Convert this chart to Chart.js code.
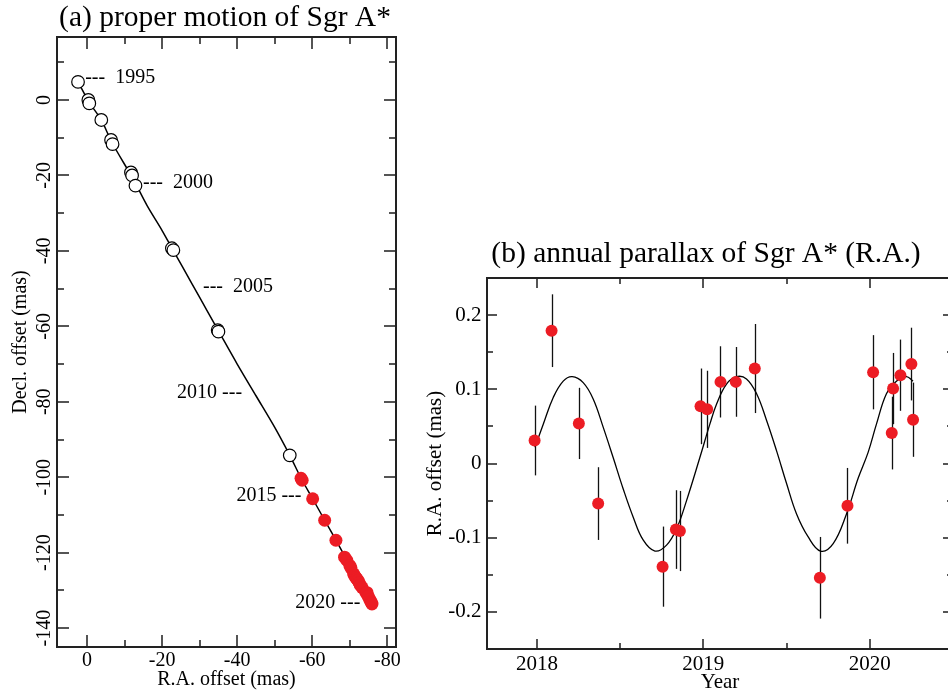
<!DOCTYPE html>
<html>
<head>
<meta charset="utf-8">
<script src="https://cdn.jsdelivr.net/npm/chart.js@4.4.1/dist/chart.umd.min.js"></script>
<style>
  html, body { margin: 0; padding: 0; background: #fff; overflow: hidden; width: 948px; height: 695px; }
  #wrapA { position: absolute; left: 0; top: 0; width: 450px; height: 695px; }
  #wrapB { position: absolute; left: 410px; top: 0; width: 592px; height: 695px; }
</style>
</head>
<body>
<div id="wrapA"><canvas id="chartA" width="450" height="695"></canvas></div>
<div id="wrapB"><canvas id="chartB" width="592" height="695"></canvas></div>
<script>
// ---------------- Panel (a): proper motion ----------------
const openRA  = [2.4, -0.35, -0.6, -3.8, -6.4, -6.8, -11.7, -12.0, -12.9, -22.6, -23.0, -34.8, -35.0, -54.0];
const openDec = [4.8, 0.0, -0.9, -5.3, -10.6, -11.7, -19.2, -20.0, -22.7, -39.3, -39.8, -61.0, -61.4, -94.2];
const redRA  = [-57.0, -57.3, -60.1, -63.3, -66.3, -68.6, -69.2, -70.0, -70.3, -71.0, -71.3, -71.6, -71.9, -72.2, -72.5, -72.8, -73.3, -74.3, -74.6, -74.9, -75.3, -75.6, -75.8, -75.9];
const redDec = [-100.3, -100.8, -105.7, -111.4, -116.7, -121.2, -122.0, -123.4, -124.0, -125.6, -126.2, -126.6, -127.0, -127.4, -128.0, -128.6, -129.3, -130.6, -130.6, -131.6, -132.4, -133.0, -133.3, -133.6];
const fitRA  = [2.4, -0.5, -3.8, -6.6, -12.3, -16.0, -20.0, -22.8, -28.0, -32.0, -35.0, -40.0, -45.0, -50.0, -54.0, -57.2, -60.1, -63.3, -66.3, -69.0, -72.0, -75.9];
const fitDec = [4.8, -0.5, -5.3, -11.2, -21.0, -28.0, -34.6, -39.6, -48.8, -55.9, -61.2, -70.0, -78.4, -86.8, -94.2, -100.6, -105.7, -111.4, -116.7, -121.6, -127.0, -133.5];
const raTicks = [0, -20, -40, -60, -80];
const raMinor = [-10, -30, -50, -70];
const decTicks = [0, -20, -40, -60, -80, -100, -120, -140];
const decMinor = [10, -10, -30, -50, -70, -90, -110, -130];
const yearLabels = ['1995', '2000', '2005', '2010', '2015', '2020'];
const yearLabelRA  = [0.5, -14.9, -30.9, -41.3, -57.1, -72.8];
const yearLabelDec = [5.8, -22.0, -49.6, -77.5, -105.0, -133.4];
const yearLabelSide = ['right', 'right', 'right', 'left', 'left', 'left'];

// ---------------- Panel (b): annual parallax ----------------
const obsYear = [2017.986, 2018.088, 2018.252, 2018.368, 2018.755, 2018.835, 2018.859, 2018.983, 2019.023, 2019.103, 2019.195, 2019.309, 2019.700, 2019.866, 2020.020, 2020.132, 2020.140, 2020.184, 2020.250, 2020.260];
const obsRA   = [0.031, 0.179, 0.054, -0.054, -0.139, -0.089, -0.091, 0.077, 0.073, 0.110, 0.110, 0.128, -0.154, -0.057, 0.123, 0.041, 0.101, 0.119, 0.134, 0.059];
const obsErr  = [0.047, 0.049, 0.048, 0.049, 0.054, 0.053, 0.054, 0.051, 0.052, 0.048, 0.047, 0.060, 0.055, 0.051, 0.050, 0.049, 0.048, 0.048, 0.049, 0.050];
const curveYear = [2017.988, 2018.038, 2018.098, 2018.158, 2018.212, 2018.278, 2018.338, 2018.398, 2018.458, 2018.518, 2018.578, 2018.638, 2018.709, 2018.779, 2018.839, 2018.899, 2018.979, 2019.039, 2019.079, 2019.139, 2019.199, 2019.259, 2019.320, 2019.380, 2019.440, 2019.500, 2019.560, 2019.630, 2019.704, 2019.780, 2019.860, 2019.930, 2019.990, 2020.040, 2020.100, 2020.160, 2020.220, 2020.260];
const curveRA   = [0.022, 0.053, 0.089, 0.111, 0.117, 0.109, 0.087, 0.049, 0.008, -0.034, -0.072, -0.103, -0.118, -0.110, -0.088, -0.050, 0.008, 0.053, 0.080, 0.107, 0.117, 0.114, 0.094, 0.058, 0.017, -0.027, -0.068, -0.099, -0.118, -0.108, -0.068, -0.020, 0.015, 0.053, 0.094, 0.111, 0.117, 0.111];
const yearTicks = [2018, 2019, 2020];
const yearMinor = [2018.5, 2019.5, 2020.5];
const parTicks = [0.2, 0.1, 0, -0.1, -0.2];
const parMinor = [0.15, 0.05, -0.05, -0.15];

const FONT = "'Liberation Serif', 'Times New Roman', serif";
Chart.defaults.font.family = FONT;
Chart.defaults.color = '#000';
Chart.defaults.animation = false;

const pts = (xs, ys) => xs.map((v, i) => ({ x: v, y: ys[i] }));

// Frame plugin: box + inward ticks on all sides, using the chart's scales
const framePlugin = {
  id: 'frame',
  afterDatasetsDraw(chart, args, o) {
    const { ctx, chartArea: a, scales } = chart;
    const sx = scales.x, sy = scales.y;
    ctx.save();
    ctx.strokeStyle = o.tickColor;
    ctx.lineWidth = 2;
    const vt = (vals, len) => vals.forEach(v => {
      const p = Math.round(sx.getPixelForValue(v));
      if (p < a.left - 0.5 || p > a.right + 0.5) return;
      ctx.beginPath();
      ctx.moveTo(p, a.bottom); ctx.lineTo(p, a.bottom - len);
      ctx.moveTo(p, a.top); ctx.lineTo(p, a.top + len);
      ctx.stroke();
    });
    const ht = (vals, len) => vals.forEach(v => {
      const p = Math.round(sy.getPixelForValue(v));
      if (p < a.top - 0.5 || p > a.bottom + 0.5) return;
      ctx.beginPath();
      ctx.moveTo(a.left, p); ctx.lineTo(a.left + len, p);
      ctx.moveTo(a.right, p); ctx.lineTo(a.right - len, p);
      ctx.stroke();
    });
    vt(o.xMajor, o.major); vt(o.xMinor, o.minor);
    ht(o.yMajor, o.major); ht(o.yMinor, o.minor);
    ctx.strokeStyle = o.borderColor;
    ctx.lineWidth = 2;
    ctx.strokeRect(a.left, a.top, a.right - a.left, a.bottom - a.top);
    ctx.restore();
  }
};

// Rotated y tick labels for panel (a)
const rotLabels = {
  id: 'rotLabels',
  afterDraw(chart, args, o) {
    if (!o.enabled) return;
    const { ctx, scales } = chart;
    const sy = scales.y;
    ctx.save();
    ctx.font = o.size + 'px ' + FONT;
    ctx.fillStyle = '#000';
    ctx.textAlign = 'center';
    ctx.textBaseline = 'middle';
    sy.ticks.forEach(t => {
      const p = sy.getPixelForValue(t.value);
      ctx.save();
      ctx.translate(o.x, p);
      ctx.rotate(-Math.PI / 2);
      ctx.fillText(String(t.value), 0, 0);
      ctx.restore();
    });
    ctx.restore();
  }
};

// Year annotations for panel (a)
const yearAnno = {
  id: 'yearAnno',
  afterDatasetsDraw(chart, args, o) {
    if (!o.enabled) return;
    const { ctx, scales } = chart;
    ctx.save();
    ctx.font = o.size + 'px ' + FONT;
    ctx.fillStyle = '#000';
    ctx.textBaseline = 'middle';
    yearLabels.forEach((lab, i) => {
      const px = scales.x.getPixelForValue(yearLabelRA[i]);
      const py = scales.y.getPixelForValue(yearLabelDec[i]);
      if (yearLabelSide[i] === 'right') {
        ctx.textAlign = 'left';
        ctx.fillText('---  ' + lab, px, py);
      } else {
        ctx.textAlign = 'right';
        ctx.fillText(lab + ' ---', px, py);
      }
    });
    ctx.restore();
  }
};

// Error bars for panel (b)
const errorBars = {
  id: 'errorBars',
  beforeDatasetsDraw(chart, args, o) {
    if (!o.enabled) return;
    const { ctx, scales } = chart;
    ctx.save();
    ctx.strokeStyle = '#111';
    ctx.lineWidth = 1.3;
    obsYear.forEach((yr, i) => {
      const px = Math.round(scales.x.getPixelForValue(yr)) + 0.5;
      ctx.beginPath();
      ctx.moveTo(px, scales.y.getPixelForValue(obsRA[i] + obsErr[i]));
      ctx.lineTo(px, scales.y.getPixelForValue(obsRA[i] - obsErr[i]));
      ctx.stroke();
    });
    ctx.restore();
  }
};

Chart.register(framePlugin, rotLabels, yearAnno, errorBars);

const RED = '#ec1c24';

// invisible right-hand spacer axis so the title centres on the whole canvas
const spacer = w => ({
  type: 'linear', position: 'right', display: true,
  grid: { display: false, drawTicks: false }, border: { display: false },
  ticks: { display: false }, afterFit: s => { s.width = w; }
});

new Chart(document.getElementById('chartA'), {
  type: 'scatter',
  data: {
    datasets: [
      { data: pts(redRA, redDec), backgroundColor: RED, borderColor: RED, pointRadius: 6.5, borderWidth: 0 },
      { data: pts(openRA, openDec), backgroundColor: '#fff', borderColor: '#000', pointRadius: 6.3, borderWidth: 1.2 },
      { data: pts(fitRA, fitDec), showLine: true, borderColor: '#000', borderWidth: 1.5, pointRadius: 0, tension: 0.3 }
    ]
  },
  options: {
    responsive: false,
    layout: { padding: { left: 0, right: 0, top: 0.5, bottom: 0 } },
    plugins: {
      legend: { display: false },
      tooltip: { enabled: false },
      title: { display: true, text: '(a) proper motion of Sgr A*', font: { size: 29.5, weight: 'normal' }, color: '#000', padding: { top: 0, bottom: 1.1 } },
      frame: { xMajor: raTicks, xMinor: raMinor, yMajor: decTicks, yMinor: decMinor, major: 12, minor: 7, tickColor: '#555', borderColor: '#222' },
      rotLabels: { enabled: true, x: 45, size: 20 },
      yearAnno: { enabled: true, size: 20 },
      errorBars: { enabled: false }
    },
    scales: {
      x: {
        type: 'linear', reverse: true, min: -82.3, max: 8,
        afterBuildTicks: s => { s.ticks = raTicks.map(v => ({ value: v })); },
        afterFit: s => { s.height = 48; },
        grid: { display: false, drawTicks: false }, border: { display: false },
        ticks: { font: { size: 20 }, padding: 2, maxRotation: 0, color: '#000' },
        title: { display: true, text: 'R.A. offset (mas)', font: { size: 20 }, color: '#000', padding: { top: 0, bottom: 3 } }
      },
      y: {
        type: 'linear', min: -145, max: 16.7,
        afterBuildTicks: s => { s.ticks = decTicks.map(v => ({ value: v })); },
        afterFit: s => { s.width = 57; },
        grid: { display: false, drawTicks: false }, border: { display: false },
        ticks: { display: false },
        title: { display: true, text: 'Decl. offset (mas)', font: { size: 20 }, color: '#000', padding: { top: 9, bottom: 0 } }
      },
      ySpace: spacer(54)
    }
  }
});

new Chart(document.getElementById('chartB'), {
  type: 'scatter',
  data: {
    datasets: [
      { data: pts(obsYear, obsRA), backgroundColor: RED, borderColor: RED, pointRadius: 6, borderWidth: 0 },
      { data: pts(curveYear, curveRA), showLine: true, borderColor: '#000', borderWidth: 1.3, pointRadius: 0, tension: 0.4 }
    ]
  },
  options: {
    responsive: false,
    layout: { padding: { left: 0, right: 0, top: 236.4, bottom: 0 } },
    plugins: {
      legend: { display: false },
      tooltip: { enabled: false },
      title: { display: true, text: '(b) annual parallax of Sgr A* (R.A.)', font: { size: 29.5, weight: 'normal' }, color: '#000', padding: { top: 0, bottom: 6.2 } },
      frame: { xMajor: yearTicks, xMinor: yearMinor, yMajor: parTicks, yMinor: parMinor, major: 10, minor: 6, tickColor: '#555', borderColor: '#222' },
      rotLabels: { enabled: false },
      yearAnno: { enabled: false },
      errorBars: { enabled: true }
    },
    scales: {
      x: {
        type: 'linear', min: 2017.7, max: 2020.5,
        afterBuildTicks: s => { s.ticks = yearTicks.map(v => ({ value: v })); },
        afterFit: s => { s.height = 46; },
        grid: { display: false, drawTicks: false }, border: { display: false },
        ticks: { font: { size: 21 }, padding: 3, maxRotation: 0, color: '#000', callback: v => String(v) },
        title: { display: true, text: 'Year', font: { size: 21 }, color: '#000', padding: { top: 0, bottom: 0 } }
      },
      y: {
        type: 'linear', min: -0.25, max: 0.25,
        afterBuildTicks: s => { s.ticks = parTicks.map(v => ({ value: v })); },
        afterFit: s => { s.width = 77; },
        grid: { display: false, drawTicks: false }, border: { display: false },
        ticks: { font: { size: 21 }, padding: 5.5, color: '#000', callback: v => String(v) },
        title: { display: true, text: 'R.A. offset (mas)', font: { size: 21 }, color: '#000', padding: { top: 13, bottom: 0 } }
      },
      ySpace: spacer(49)
    }
  }
});
</script>
</body>
</html>
